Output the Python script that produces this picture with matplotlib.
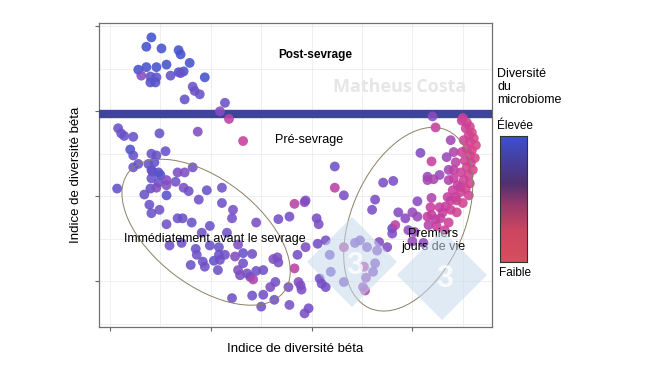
import matplotlib
matplotlib.use("Agg")
import matplotlib.pyplot as plt
import matplotlib.transforms as mtransforms
from matplotlib.colors import LinearSegmentedColormap
from matplotlib.patches import Ellipse, Polygon
import numpy as np

plt.rcParams['font.family'] = ['Liberation Sans', 'DejaVu Sans']

# Post-sevrage
post_x = [0.41, 0.36, 0.51, 0.68, 0.70, 0.79, 0.56, 0.36, 0.46, 0.28, 0.31, 0.40, 0.46, 0.40,
          0.45, 0.60, 0.68, 0.73, 0.70, 0.94, 0.82, 0.84, 0.89, 0.74, 1.14, 1.09, 1.18]
post_y = [2.87, 2.76, 2.74, 2.72, 2.67, 2.57, 2.55, 2.52, 2.52, 2.49, 2.42, 2.41, 2.40, 2.34,
          2.34, 2.42, 2.46, 2.47, 2.45, 2.40, 2.29, 2.24, 2.20, 2.14, 2.10, 2.00, 1.91]
post_div = [0.97, 0.97, 0.95, 0.95, 0.95, 0.95, 0.95, 0.95, 0.95, 0.95, 0.60, 0.82, 0.85, 0.85,
            0.85, 0.80, 0.92, 0.92, 0.75, 0.95, 0.72, 0.75, 0.75, 0.78, 0.75, 0.55, 0.35]

# Pré-sevrage / immédiatement avant le sevrage
pre_x = [0.08, 0.11, 0.14, 0.23, 0.49, 0.87, 1.32, 0.20, 0.23, 0.41, 0.46, 0.55, 0.23, 0.28,
         0.38, 0.44, 0.41, 0.42, 0.48, 0.50, 0.67, 0.74, 0.82, 0.41, 0.56, 0.48, 0.56, 0.65,
         0.07, 0.40, 0.46, 0.73, 0.78, 0.96, 1.11, 0.34, 0.56, 0.88, 1.11, 0.39, 1.22, 0.41,
         0.49, 0.67, 0.72, 1.21, 1.67, 0.56, 0.81, 0.99, 1.45, 1.78, 1.83, 1.93, 0.91, 1.16,
         0.59, 0.71, 0.85, 0.99, 1.08, 1.27, 0.86, 0.92, 0.94, 0.80, 1.03, 1.08, 1.14, 1.09,
         1.24, 1.32, 1.41, 1.32, 1.27, 1.29, 1.36, 1.39, 1.45, 1.52, 1.42, 1.07, 1.62, 1.66,
         1.67, 1.86, 1.83, 1.94, 1.64, 1.59, 1.77, 1.87, 1.89, 1.90, 1.52, 1.41, 1.21, 1.63,
         1.78, 1.50, 1.93, 1.94, 2.05, 2.07, 2.06, 2.14, 2.18, 2.32, 2.19, 2.08, 2.10, 2.14,
         2.32, 1.97, 2.23, 2.23, 2.32]
pre_y = [1.80, 1.74, 1.71, 1.70, 1.74, 1.76, 1.65, 1.55, 1.48, 1.50, 1.48, 1.53, 1.34, 1.38,
         1.38, 1.40, 1.31, 1.29, 1.28, 1.25, 1.28, 1.28, 1.34, 1.21, 1.19, 1.16, 1.13, 1.17,
         1.09, 1.09, 1.10, 1.10, 1.06, 1.07, 1.10, 1.02, 1.01, 0.96, 0.92, 0.90, 0.84, 0.80,
         0.84, 0.74, 0.74, 0.74, 0.73, 0.67, 0.69, 0.65, 0.69, 0.76, 0.91, 0.93, 0.57, 0.57,
         0.42, 0.45, 0.38, 0.42, 0.40, 0.43, 0.31, 0.23, 0.17, 0.19, 0.24, 0.31, 0.31, 0.25,
         0.29, 0.33, 0.32, 0.21, 0.13, 0.07, 0.09, 0.05, 0.12, 0.13, 0.02, 0.13, 0.26, 0.28,
         0.22, 0.31, 0.15, 0.40, -0.01, -0.07, -0.07, -0.01, -0.05, -0.10, -0.16, -0.17, -0.20, -0.22,
         -0.28, -0.30, -0.38, 0.95, 0.74, 0.67, 0.44, 0.48, 0.31, 0.40, 0.11, 0.03, -0.03, -0.07,
         -0.01, -0.32, 1.35, 1.10, 1.01]
pre_div = [0.75, 0.75, 0.75, 0.75, 0.75, 0.60, 0.30, 0.90, 0.78, 0.75, 0.75, 0.78, 0.75, 0.75,
           0.78, 0.80, 0.78, 0.80, 0.85, 0.85, 0.65, 0.60, 0.72, 0.75, 0.60, 0.75, 0.60, 0.72,
           0.80, 0.80, 0.60, 0.65, 0.72, 0.75, 0.72, 0.75, 0.85, 0.70, 0.72, 0.75, 0.68, 0.75,
           0.72, 0.72, 0.75, 0.70, 0.70, 0.72, 0.75, 0.75, 0.65, 0.70, 0.35, 0.55, 0.72, 0.72,
           0.72, 0.72, 0.75, 0.75, 0.75, 0.62, 0.72, 0.75, 0.72, 0.75, 0.80, 0.75, 0.72, 0.72,
           0.60, 0.75, 0.70, 0.72, 0.60, 0.62, 0.65, 0.70, 0.72, 0.70, 0.40, 0.72, 0.60, 0.65,
           0.65, 0.70, 0.35, 0.62, 0.70, 0.62, 0.65, 0.55, 0.62, 0.62, 0.70, 0.72, 0.72, 0.72,
           0.68, 0.72, 0.65, 0.62, 0.65, 0.65, 0.70, 0.65, 0.72, 0.35, 0.72, 0.72, 0.65, 0.70,
           0.65, 0.70, 0.72, 0.35, 0.65]

# Premiers jours de vie
early_x = [2.43, 2.48, 2.55, 2.67, 2.65, 2.75, 2.63, 2.61, 2.52, 2.54, 2.51, 2.53, 2.60, 2.86,
           2.93, 3.00, 3.05, 2.80, 2.83, 2.96, 3.02, 2.80, 3.00, 3.11, 3.16, 3.15, 3.19, 3.23,
           3.18, 3.27, 3.33, 2.63, 3.05, 3.19, 3.38, 3.43, 2.71, 2.81, 3.15, 3.15, 3.21, 3.27,
           3.36, 3.41, 3.36, 3.41, 3.48, 3.08, 3.19, 3.38, 3.34, 3.41, 3.43, 3.20, 3.23, 3.49,
           3.50, 3.54, 3.57, 3.53, 3.59, 3.56, 3.61, 3.51, 3.57, 3.63, 3.54, 3.59, 3.49, 3.57,
           3.62, 3.52, 3.58, 3.54, 3.60, 3.48, 3.56, 3.51, 3.57, 3.45, 3.53, 3.48, 3.56, 3.40,
           3.44, 3.50, 3.35, 3.38, 3.30, 3.44, 3.28, 3.36, 3.24, 3.32]
early_y = [0.45, 0.48, 0.40, 0.46, 0.36, 0.40, 0.21, 0.11, 0.17, 0.04, -0.07, -0.11, 0.84, 0.81,
           0.74, 0.81, 0.76, 0.62, 0.66, 0.60, 0.58, 0.56, 0.47, 0.45, 0.66, 0.76, 0.78, 0.73,
           0.87, 0.87, 0.88, 0.96, 0.94, 0.98, 0.95, 0.99, 1.16, 1.18, 1.23, 1.19, 1.20, 1.25,
           1.31, 1.31, 1.19, 1.21, 1.11, 1.51, 1.41, 1.66, 1.46, 1.52, 1.40, 1.94, 1.81, 1.89,
           1.92, 1.87, 1.82, 1.80, 1.75, 1.72, 1.68, 1.66, 1.64, 1.60, 1.56, 1.54, 1.52, 1.48,
           1.45, 1.42, 1.39, 1.34, 1.31, 1.28, 1.25, 1.19, 1.15, 1.13, 1.09, 1.05, 1.01, 1.07,
           0.95, 0.92, 0.99, 0.84, 0.81, 0.81, 0.74, 0.69, 0.65, 0.60]
early_div = [0.65, 0.65, 0.60, 0.60, 0.60, 0.60, 0.60, 0.60, 0.35, 0.50, 0.55, 0.40, 0.65, 0.60,
             0.55, 0.50, 0.50, 0.85, 0.35, 0.50, 0.50, 0.60, 0.50, 0.55, 0.40, 0.30, 0.30, 0.35,
             0.30, 0.30, 0.30, 0.65, 0.55, 0.40, 0.30, 0.25, 0.65, 0.65, 0.50, 0.45, 0.40, 0.50,
             0.45, 0.35, 0.40, 0.30, 0.25, 0.60, 0.30, 0.45, 0.50, 0.40, 0.35, 0.55, 0.30, 0.30,
             0.25, 0.20, 0.20, 0.25, 0.15, 0.20, 0.15, 0.25, 0.20, 0.15, 0.20, 0.15, 0.25, 0.20,
             0.15, 0.25, 0.20, 0.20, 0.15, 0.25, 0.20, 0.25, 0.20, 0.30, 0.20, 0.25, 0.20, 0.30,
             0.25, 0.20, 0.30, 0.25, 0.30, 0.20, 0.30, 0.25, 0.30, 0.25]

point_cmap = LinearSegmentedColormap.from_list(
    'pts', [(0.0, '#e64a78'), (0.3, '#c63f9e'), (0.55, '#8a4bc0'), (0.75, '#6b52c8'), (1.0, '#3d52cf')])
bar_cmap = LinearSegmentedColormap.from_list(
    'bar', [(0.0, '#d94d5e'), (0.25, '#cc4660'), (0.45, '#99396a'), (0.62, '#52306f'),
            (0.8, '#463f9c'), (1.0, '#3d50d2')])

fig = plt.figure(figsize=(6.5, 3.66), dpi=100)
ax = fig.add_axes([0.1523, 0.1066, 0.6046, 0.8306])

ax.set_xlim(-0.11, 3.79)
ax.set_ylim(-0.54, 3.04)
ax.set_xticks([0, 1, 2, 3])
ax.set_yticks([0, 1, 2, 3])
ax.set_xticks([0.5, 1.5, 2.5, 3.5], minor=True)
ax.set_yticks([-0.5, 0.5, 1.5, 2.5], minor=True)
ax.set_xticklabels([])
ax.set_yticklabels([])
ax.tick_params(which='major', length=3, color='#666666', width=0.8)
ax.tick_params(which='minor', length=0)
ax.grid(which='both', color='#ededed', linewidth=0.6)
ax.set_axisbelow(True)
for s in ax.spines.values():
    s.set_color('#707070')
    s.set_linewidth(0.9)

# separation band
ax.axhspan(1.93, 2.02, color='#3f4596', zorder=3)

for xs, ys, cs in [(post_x, post_y, post_div), (pre_x, pre_y, pre_div), (early_x, early_y, early_div)]:
    ax.scatter(xs, ys, c=cs, cmap=point_cmap, vmin=0, vmax=1, s=50, alpha=0.88,
               linewidths=0, zorder=4)

# ellipses (sizes in pixels)
def ellipse(cx, cy, a, b, ang):
    tr = mtransforms.ScaledTranslation(cx, cy, ax.transData)
    e = Ellipse((0, 0), 2 * a, 2 * b, angle=ang, fill=False, edgecolor='#8c7f66',
                linewidth=0.7, transform=mtransforms.IdentityTransform() + tr, zorder=5)
    ax.add_patch(e)

ellipse(0.953, 0.576, 98, 53, -37.5)
ellipse(2.959, 0.729, 97, 56.5, 66.7)

# watermark
ax.text(0.765, 0.79, 'Matheus Costa', transform=ax.transAxes, color='#e6e6e6',
        fontsize=13, fontweight='bold', family=['Open Sans', 'DejaVu Sans'],
        ha='center', va='center', zorder=2)
for cxp, cyp in [(352, 262), (442, 275)]:
    hw, hh = 45 / 650, 45 / 366
    cx, cy = cxp / 650, 1 - cyp / 366
    fig.patches.append(Polygon([(cx - hw, cy), (cx, cy + hh), (cx + hw, cy), (cx, cy - hh)],
                               closed=True, transform=fig.transFigure, facecolor='#c6daee',
                               edgecolor='none', alpha=0.55, zorder=1))
    fig.text(cx + 0.004, cy - 0.01, '3', color='white', alpha=0.8, fontsize=22, fontweight='bold',
             ha='center', va='center', zorder=2)

ax.text(0.55, 0.895, 'Post-sevrage', transform=ax.transAxes, fontsize=8.5, fontweight='bold',
        ha='center', va='center', zorder=6)
ax.text(0.535, 0.615, 'Pré-sevrage', transform=ax.transAxes, fontsize=9, ha='center',
        va='center', zorder=6)
ax.text(0.295, 0.29, 'Immédiatement avant le sevrage', transform=ax.transAxes, fontsize=9,
        ha='center', va='center', zorder=6)
ax.text(0.85, 0.285, 'Premiers\njours de vie', transform=ax.transAxes, fontsize=9,
        ha='center', va='center', linespacing=1.1, zorder=6)

ax.set_xlabel('Indice de diversité béta', fontsize=9.5, labelpad=5)
ax.set_ylabel('Indice de diversité béta', fontsize=9.5, labelpad=6)

# colour scale
cax = fig.add_axes([0.769, 0.284, 0.042, 0.344])
grad = np.linspace(1, 0, 256).reshape(-1, 1)
cax.imshow(grad, aspect='auto', cmap=bar_cmap, vmin=0, vmax=1)
cax.set_xticks([])
cax.set_yticks([])
for s in cax.spines.values():
    s.set_color('#333333')
    s.set_linewidth(0.8)

fig.text(0.765, 0.815, 'Diversité\ndu\nmicrobiome', fontsize=9, va='top', ha='left',
         linespacing=1.1)
fig.text(0.764, 0.655, 'Élevée', fontsize=8.5, va='center', ha='left')
fig.text(0.768, 0.255, 'Faible', fontsize=8.5, va='center', ha='left')

fig.savefig('out.png', dpi=100)
